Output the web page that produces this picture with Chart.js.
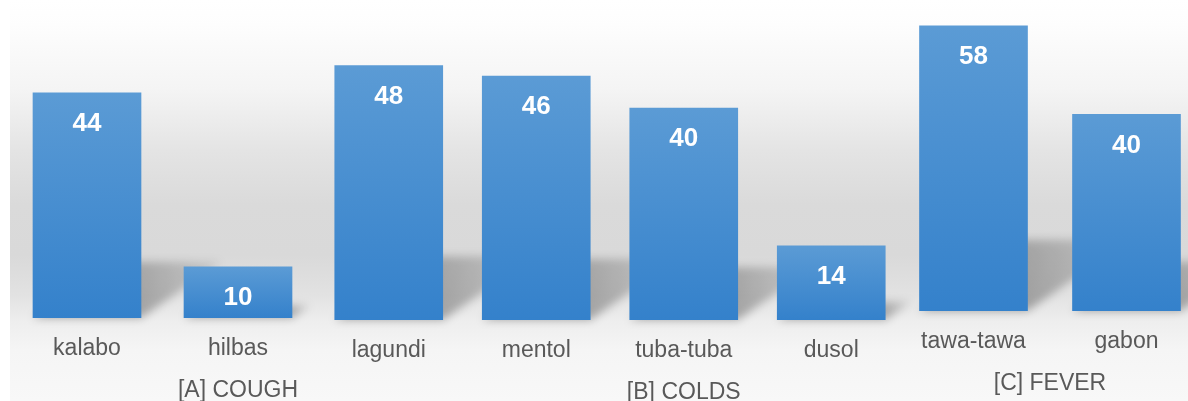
<!DOCTYPE html>
<html>
<head>
<meta charset="utf-8">
<script src="https://cdn.jsdelivr.net/npm/chart.js@4.4.1/dist/chart.umd.min.js"></script>
<style>
  html, body { margin: 0; padding: 0; }
  body {
    width: 1188px; height: 401px; overflow: hidden; position: relative;
    background: #fff;
    font-family: "Liberation Sans", Arial, sans-serif;
  }
  .panel {
    position: absolute; top: 0; height: 401px;
    background: linear-gradient(to bottom, #ffffff 0px, #fdfdfd 25px, #f4f4f4 90px,
      #e4e4e4 150px, #dadada 205px, #d9d9d9 255px, #e2e2e2 295px, #eeeeee 322px,
      #f5f5f5 350px, #f8f8f8 401px);
  }
  canvas { position: absolute; top: 0; }
</style>
</head>
<body>
<div class="panel" style="left:10px; width:300px;"></div>
<div class="panel" style="left:310px; width:585px;"></div>
<div class="panel" style="left:895px; width:293px;"></div>

<canvas id="coughChart" width="330" height="401" style="left:0px;"></canvas>
<canvas id="coldsChart" width="610" height="401" style="left:305px;"></canvas>
<canvas id="feverChart" width="330" height="401" style="left:887px;"></canvas>

<script>
// data
const coughLabels = ['kalabo', 'hilbas'];
const coughValues = [44, 10];

const coldsLabels = ['lagundi', 'mentol', 'tuba-tuba', 'dusol'];
const coldsValues = [48, 46, 40, 14];

const feverLabels = ['tawa-tawa', 'gabon'];
const feverValues = [58, 40];

const groupNames = ['[A] COUGH', '[B] COLDS', '[C] FEVER'];

// per-bar gradient, light on top, darker at the base
function barFill(context) {
  const chart = context.chart;
  const y = chart.scales.y;
  const v = context.raw;
  if (!y || v == null) return '#4a8fd2';
  const top = y.getPixelForValue(v);
  const base = y.getPixelForValue(0);
  if (!isFinite(top) || !isFinite(base) || top === base) return '#4a8fd2';
  const g = chart.ctx.createLinearGradient(0, top, 0, base);
  g.addColorStop(0, '#5b9bd5');
  g.addColorStop(1, '#3481cb');
  return g;
}

// perspective floor shadow behind every bar
const floorShadow = {
  id: 'floorShadow',
  beforeDatasetsDraw(chart) {
    const ctx = chart.ctx;
    chart.getDatasetMeta(0).data.forEach(function (bar) {
      const h = bar.base - bar.y;
      if (!isFinite(h) || h <= 0) return;
      const left = bar.x - bar.width / 2;
      const right = bar.x + bar.width / 2;
      const dx = h * 0.36, dy = h * 0.25;
      ctx.save();
      ctx.filter = 'blur(4px)';
      const g = ctx.createLinearGradient(right, bar.base, right + dx, bar.base - dy);
      g.addColorStop(0, 'rgba(0,0,0,0.3)');
      g.addColorStop(1, 'rgba(0,0,0,0.08)');
      ctx.fillStyle = g;
      ctx.beginPath();
      ctx.moveTo(left, bar.base);
      ctx.lineTo(right, bar.base);
      ctx.lineTo(right + dx, bar.base - dy);
      ctx.lineTo(left + dx, bar.base - dy);
      ctx.closePath();
      ctx.fill();
      ctx.restore();
    });
  }
};

// white value inside the top of each bar
const barValues = {
  id: 'barValues',
  afterDatasetsDraw(chart) {
    const ctx = chart.ctx;
    const ds = chart.data.datasets[0];
    ctx.save();
    ctx.fillStyle = '#ffffff';
    ctx.font = 'bold 26px "Liberation Sans", Arial, sans-serif';
    ctx.textAlign = 'center';
    ctx.textBaseline = 'middle';
    chart.getDatasetMeta(0).data.forEach(function (bar, i) {
      ctx.fillText(ds.data[i], bar.x, bar.y + 31);
    });
    ctx.restore();
  }
};

// group name under the category labels
const groupTitle = {
  id: 'groupTitle',
  afterDraw(chart, args, opts) {
    const ctx = chart.ctx;
    const x = chart.scales.x.getPixelForValue(opts.at);
    ctx.save();
    ctx.fillStyle = '#595959';
    ctx.font = '23px "Liberation Sans", Arial, sans-serif';
    ctx.textAlign = 'center';
    ctx.textBaseline = 'alphabetic';
    ctx.fillText(opts.text, x, chart.scales.y.getPixelForValue(0) + 79);
    ctx.restore();
  }
};

function makeChart(id, labels, values, title, at, pad, axisHeight) {
  return new Chart(document.getElementById(id), {
    type: 'bar',
    data: {
      labels: labels,
      datasets: [{
        data: values,
        backgroundColor: barFill,
        borderWidth: 0,
        barThickness: 108
      }]
    },
    options: {
      responsive: false,
      animation: false,
      devicePixelRatio: 1,
      layout: { padding: pad },
      scales: {
        x: {
          grid: { display: false, drawTicks: false },
          border: { display: false },
          ticks: {
            color: '#595959',
            padding: 17,
            font: { family: '"Liberation Sans", Arial, sans-serif', size: 23 }
          },
          afterFit: function (scale) { scale.height = axisHeight; }
        },
        y: { display: false, min: 0, max: 60 }
      },
      plugins: {
        legend: { display: false },
        tooltip: { enabled: false },
        groupTitle: { text: title, at: at }
      }
    },
    plugins: [floorShadow, barValues, groupTitle]
  });
}

makeChart('coughChart', coughLabels, coughValues, groupNames[0], 1,
  { left: 11.5, right: 16.5, top: 11, bottom: 0 }, 83);
makeChart('coldsChart', coldsLabels, coldsValues, groupNames[1], 2,
  { left: 10, right: 10, top: 2, bottom: 0 }, 81);
makeChart('feverChart', feverLabels, feverValues, groupNames[2], 0.5,
  { left: 10, right: 14, top: 16, bottom: 0 }, 90);
</script>
</body>
</html>
